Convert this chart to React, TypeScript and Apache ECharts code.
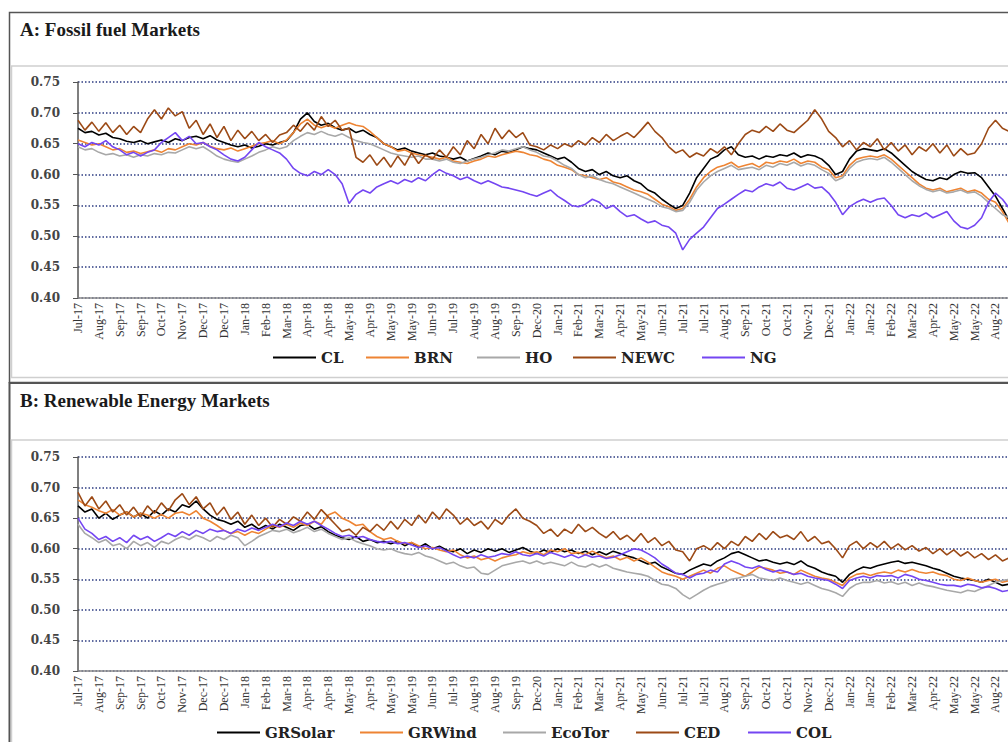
import React, { useEffect, useRef } from "react";
import * as echarts from "echarts";

// Tick labels shared by both panels (one per axis unit)
const tickLabels = [
  "Jul-17", "Aug-17", "Sep-17", "Sep-17", "Oct-17", "Nov-17", "Dec-17", "Dec-17", "Jan-18",
  "Feb-18", "Mar-18", "Apr-18", "Apr-18", "May-18", "Apr-19", "May-19", "May-19", "Jun-19",
  "Jul-19", "Aug-19", "Aug-19", "Sep-19", "Dec-20", "Jan-21", "Feb-21", "Mar-21", "Apr-21",
  "May-21", "Jun-21", "Jul-21", "Jul-21", "Aug-21", "Sep-21", "Oct-21", "Oct-21", "Nov-21",
  "Dec-21", "Jan-22", "Jan-22", "Feb-22", "Mar-22", "Apr-22", "May-22", "May-22", "Aug-22",
];

// Observations per tick interval
const PER_TICK = 3;

// Panel A: fossil fuel markets
const clValues = [
  0.675, 0.668, 0.670, 0.664, 0.667, 0.660, 0.658, 0.654, 0.652, 0.655, 0.650, 0.653, 0.656, 0.652, 0.658,
  0.655, 0.660, 0.662, 0.658, 0.663, 0.656, 0.652, 0.648, 0.645, 0.648, 0.643, 0.646, 0.650, 0.648, 0.652,
  0.655, 0.668, 0.690, 0.700, 0.686, 0.680, 0.683, 0.676, 0.672, 0.675, 0.668, 0.672, 0.665, 0.660, 0.650,
  0.645, 0.640, 0.643, 0.638, 0.635, 0.632, 0.635, 0.630, 0.628, 0.625, 0.628, 0.622, 0.626, 0.630, 0.635,
  0.632, 0.638, 0.636, 0.640, 0.645, 0.642, 0.640, 0.635, 0.630, 0.625, 0.628, 0.620, 0.610, 0.605, 0.608,
  0.600, 0.605, 0.598, 0.595, 0.598, 0.590, 0.585, 0.575, 0.570, 0.560, 0.552, 0.545, 0.550, 0.570, 0.595,
  0.610, 0.625, 0.630, 0.640, 0.645, 0.632, 0.628, 0.630, 0.625, 0.630, 0.628, 0.632, 0.630, 0.635, 0.628,
  0.632, 0.630, 0.625, 0.615, 0.600, 0.605, 0.625, 0.638, 0.642, 0.640, 0.638, 0.642, 0.635, 0.625, 0.615,
  0.605, 0.598, 0.592, 0.590, 0.595, 0.592, 0.600, 0.605, 0.602, 0.603, 0.595, 0.580, 0.565, 0.545, 0.525,
];
const brnValues = [
  0.656, 0.652, 0.648, 0.650, 0.645, 0.640, 0.642, 0.636, 0.638, 0.634, 0.637, 0.640, 0.636, 0.642, 0.640,
  0.645, 0.650, 0.648, 0.652, 0.646, 0.642, 0.640, 0.643, 0.638, 0.642, 0.646, 0.650, 0.652, 0.655, 0.650,
  0.656, 0.668, 0.682, 0.690, 0.680, 0.676, 0.680, 0.675, 0.680, 0.684, 0.680, 0.678, 0.670, 0.660, 0.650,
  0.645, 0.638, 0.640, 0.635, 0.632, 0.630, 0.628, 0.625, 0.628, 0.622, 0.620, 0.618, 0.622, 0.625, 0.630,
  0.628, 0.632, 0.635, 0.638, 0.636, 0.632, 0.630, 0.625, 0.622, 0.615, 0.612, 0.608, 0.600, 0.598, 0.595,
  0.592, 0.595, 0.588, 0.585, 0.580, 0.575, 0.572, 0.568, 0.560, 0.552, 0.548, 0.542, 0.545, 0.560, 0.580,
  0.595, 0.605, 0.612, 0.615, 0.620, 0.612, 0.615, 0.618, 0.612, 0.620, 0.618, 0.622, 0.620, 0.625, 0.618,
  0.622, 0.620, 0.612, 0.608, 0.595, 0.598, 0.615, 0.625, 0.628, 0.630, 0.628, 0.632, 0.625, 0.615, 0.605,
  0.595, 0.585, 0.578, 0.575, 0.578, 0.572, 0.575, 0.578, 0.572, 0.575, 0.570, 0.560, 0.555, 0.540, 0.520,
];
const hoValues = [
  0.645, 0.640, 0.642, 0.636, 0.632, 0.634, 0.630, 0.632, 0.628, 0.632, 0.630, 0.634, 0.632, 0.636, 0.635,
  0.640, 0.645, 0.642, 0.645, 0.638, 0.630, 0.625, 0.622, 0.620, 0.625, 0.630, 0.636, 0.640, 0.645, 0.642,
  0.645, 0.655, 0.662, 0.668, 0.665, 0.670, 0.665, 0.662, 0.666, 0.660, 0.655, 0.652, 0.650, 0.645, 0.640,
  0.635, 0.632, 0.630, 0.628, 0.630, 0.625, 0.625, 0.622, 0.625, 0.620, 0.618, 0.622, 0.625, 0.628, 0.632,
  0.635, 0.640, 0.638, 0.642, 0.645, 0.640, 0.636, 0.630, 0.628, 0.622, 0.615, 0.610, 0.600, 0.595, 0.598,
  0.592, 0.588, 0.585, 0.580, 0.575, 0.570, 0.565, 0.560, 0.555, 0.548, 0.545, 0.540, 0.542, 0.555, 0.575,
  0.588, 0.598, 0.605, 0.610, 0.615, 0.608, 0.610, 0.612, 0.608, 0.615, 0.612, 0.618, 0.615, 0.620, 0.614,
  0.618, 0.615, 0.608, 0.602, 0.590, 0.595, 0.610, 0.620, 0.624, 0.626, 0.624, 0.628, 0.620, 0.610, 0.600,
  0.590, 0.582, 0.576, 0.572, 0.575, 0.570, 0.572, 0.575, 0.570, 0.572, 0.565, 0.555, 0.545, 0.535, 0.530,
];
const newcValues = [
  0.688, 0.672, 0.685, 0.670, 0.684, 0.668, 0.680, 0.665, 0.678, 0.668, 0.690, 0.705, 0.690, 0.708, 0.695,
  0.702, 0.675, 0.688, 0.665, 0.682, 0.660, 0.678, 0.655, 0.672, 0.658, 0.670, 0.655, 0.665, 0.652, 0.664,
  0.668, 0.680, 0.670, 0.684, 0.672, 0.694, 0.678, 0.688, 0.672, 0.675, 0.628, 0.620, 0.632, 0.615, 0.628,
  0.612, 0.630, 0.615, 0.635, 0.618, 0.632, 0.625, 0.640, 0.628, 0.645, 0.632, 0.655, 0.642, 0.665, 0.650,
  0.675, 0.658, 0.672, 0.660, 0.668, 0.648, 0.645, 0.640, 0.648, 0.642, 0.650, 0.645, 0.655, 0.648, 0.660,
  0.652, 0.665, 0.655, 0.662, 0.668, 0.660, 0.672, 0.685, 0.670, 0.660, 0.645, 0.635, 0.640, 0.628, 0.635,
  0.630, 0.642, 0.635, 0.645, 0.632, 0.650, 0.665, 0.672, 0.668, 0.678, 0.670, 0.682, 0.672, 0.668, 0.678,
  0.688, 0.705, 0.690, 0.670, 0.660, 0.645, 0.655, 0.640, 0.652, 0.645, 0.658, 0.640, 0.652, 0.638, 0.648,
  0.632, 0.645, 0.638, 0.650, 0.635, 0.648, 0.630, 0.642, 0.632, 0.635, 0.650, 0.675, 0.688, 0.675, 0.670,
];
const ngValues = [
  0.650, 0.645, 0.652, 0.648, 0.655, 0.645, 0.640, 0.632, 0.636, 0.630, 0.636, 0.640, 0.652, 0.660, 0.668,
  0.655, 0.662, 0.650, 0.652, 0.645, 0.640, 0.632, 0.625, 0.622, 0.628, 0.640, 0.652, 0.645, 0.640, 0.635,
  0.625, 0.610, 0.602, 0.598, 0.605, 0.600, 0.608, 0.600, 0.585, 0.553, 0.568, 0.575, 0.570, 0.580, 0.585,
  0.590, 0.585, 0.592, 0.588, 0.595, 0.590, 0.600, 0.608, 0.602, 0.598, 0.592, 0.596, 0.590, 0.585, 0.590,
  0.585, 0.580, 0.578, 0.575, 0.572, 0.568, 0.565, 0.570, 0.575, 0.565, 0.558, 0.550, 0.548, 0.552, 0.560,
  0.555, 0.545, 0.550, 0.540, 0.532, 0.535, 0.528, 0.522, 0.525, 0.518, 0.515, 0.505, 0.478, 0.495, 0.505,
  0.515, 0.530, 0.545, 0.552, 0.560, 0.568, 0.575, 0.572, 0.580, 0.585, 0.582, 0.588, 0.578, 0.575, 0.580,
  0.585, 0.578, 0.580, 0.570, 0.555, 0.535, 0.548, 0.555, 0.560, 0.555, 0.560, 0.562, 0.550, 0.535, 0.530,
  0.535, 0.532, 0.538, 0.530, 0.535, 0.540, 0.525, 0.515, 0.512, 0.518, 0.530, 0.555, 0.570, 0.560, 0.545,
];

// Panel B: renewable energy markets
const grSolarValues = [
  0.670, 0.660, 0.665, 0.650, 0.658, 0.648, 0.655, 0.660, 0.652, 0.658, 0.650, 0.662, 0.655, 0.665, 0.660,
  0.672, 0.668, 0.678, 0.665, 0.655, 0.648, 0.645, 0.640, 0.645, 0.635, 0.640, 0.632, 0.638, 0.632, 0.640,
  0.635, 0.630, 0.638, 0.640, 0.632, 0.636, 0.628, 0.622, 0.618, 0.615, 0.620, 0.612, 0.615, 0.610, 0.612,
  0.608, 0.612, 0.605, 0.610, 0.602, 0.608, 0.600, 0.604, 0.598, 0.595, 0.600, 0.592, 0.598, 0.594, 0.600,
  0.596, 0.600, 0.594, 0.598, 0.602, 0.596, 0.592, 0.598, 0.594, 0.600, 0.595, 0.598, 0.592, 0.596, 0.590,
  0.595, 0.590, 0.596, 0.592, 0.588, 0.585, 0.580, 0.575, 0.578, 0.570, 0.565, 0.560, 0.558, 0.565, 0.570,
  0.575, 0.572, 0.580, 0.585, 0.592, 0.595, 0.590, 0.585, 0.580, 0.582, 0.578, 0.575, 0.578, 0.574, 0.580,
  0.572, 0.568, 0.562, 0.558, 0.555, 0.545, 0.558, 0.565, 0.570, 0.568, 0.572, 0.575, 0.578, 0.580, 0.576,
  0.578, 0.575, 0.572, 0.568, 0.565, 0.560, 0.555, 0.552, 0.550, 0.548, 0.545, 0.550, 0.545, 0.540, 0.542,
];
const grWindValues = [
  0.680, 0.672, 0.668, 0.662, 0.658, 0.664, 0.655, 0.660, 0.652, 0.658, 0.655, 0.650, 0.656, 0.650, 0.658,
  0.660, 0.655, 0.662, 0.650, 0.645, 0.638, 0.630, 0.625, 0.628, 0.622, 0.628, 0.625, 0.632, 0.638, 0.635,
  0.640, 0.635, 0.642, 0.638, 0.645, 0.640, 0.655, 0.660, 0.650, 0.645, 0.638, 0.640, 0.628, 0.620, 0.615,
  0.618, 0.612, 0.608, 0.610, 0.605, 0.600, 0.602, 0.598, 0.595, 0.598, 0.590, 0.585, 0.588, 0.582, 0.585,
  0.580, 0.585, 0.588, 0.590, 0.595, 0.592, 0.595, 0.590, 0.598, 0.595, 0.600, 0.592, 0.594, 0.590, 0.596,
  0.590, 0.585, 0.588, 0.582, 0.586, 0.580, 0.585, 0.578, 0.570, 0.562, 0.558, 0.555, 0.550, 0.555, 0.560,
  0.565, 0.560, 0.568, 0.572, 0.565, 0.560, 0.555, 0.562, 0.570, 0.568, 0.565, 0.560, 0.562, 0.558, 0.565,
  0.560, 0.555, 0.552, 0.550, 0.545, 0.540, 0.552, 0.558, 0.560, 0.556, 0.560, 0.562, 0.560, 0.565, 0.562,
  0.566, 0.562, 0.560, 0.562, 0.558, 0.556, 0.550, 0.548, 0.552, 0.548, 0.545, 0.548, 0.550, 0.545, 0.548,
];
const ecoTorValues = [
  0.640, 0.625, 0.618, 0.610, 0.615, 0.605, 0.608, 0.600, 0.612, 0.605, 0.610, 0.602, 0.612, 0.608, 0.615,
  0.620, 0.615, 0.622, 0.618, 0.612, 0.620, 0.615, 0.622, 0.618, 0.605, 0.612, 0.620, 0.625, 0.630, 0.628,
  0.632, 0.626, 0.630, 0.635, 0.628, 0.632, 0.625, 0.620, 0.615, 0.618, 0.612, 0.608, 0.605, 0.600, 0.598,
  0.600, 0.595, 0.592, 0.590, 0.594, 0.588, 0.585, 0.580, 0.575, 0.578, 0.572, 0.568, 0.570, 0.560, 0.558,
  0.565, 0.572, 0.575, 0.578, 0.580, 0.576, 0.580, 0.575, 0.578, 0.575, 0.572, 0.578, 0.572, 0.570, 0.575,
  0.570, 0.574, 0.568, 0.565, 0.562, 0.560, 0.558, 0.555, 0.548, 0.542, 0.540, 0.535, 0.525, 0.518, 0.525,
  0.532, 0.538, 0.542, 0.545, 0.550, 0.552, 0.555, 0.558, 0.552, 0.550, 0.548, 0.552, 0.548, 0.545, 0.542,
  0.545, 0.540, 0.535, 0.532, 0.528, 0.522, 0.535, 0.542, 0.545, 0.545, 0.548, 0.544, 0.546, 0.542, 0.545,
  0.540, 0.544, 0.540, 0.538, 0.535, 0.532, 0.530, 0.528, 0.532, 0.530, 0.535, 0.540, 0.545, 0.548, 0.550,
];
const cedValues = [
  0.692, 0.670, 0.685, 0.665, 0.678, 0.660, 0.672, 0.655, 0.668, 0.652, 0.670, 0.658, 0.675, 0.662, 0.680,
  0.690, 0.672, 0.685, 0.665, 0.675, 0.655, 0.668, 0.648, 0.660, 0.640, 0.655, 0.638, 0.650, 0.635, 0.648,
  0.640, 0.652, 0.645, 0.660, 0.648, 0.664, 0.652, 0.640, 0.628, 0.632, 0.622, 0.635, 0.628, 0.640, 0.630,
  0.645, 0.632, 0.648, 0.638, 0.655, 0.642, 0.660, 0.648, 0.665, 0.655, 0.640, 0.650, 0.638, 0.645, 0.632,
  0.648, 0.640, 0.655, 0.665, 0.650, 0.645, 0.638, 0.625, 0.632, 0.620, 0.632, 0.625, 0.640, 0.628, 0.635,
  0.625, 0.618, 0.628, 0.615, 0.622, 0.612, 0.625, 0.610, 0.618, 0.605, 0.612, 0.598, 0.595, 0.580, 0.600,
  0.605, 0.598, 0.610, 0.600, 0.612, 0.605, 0.620, 0.612, 0.625, 0.615, 0.628, 0.618, 0.622, 0.615, 0.628,
  0.612, 0.620, 0.608, 0.612, 0.600, 0.585, 0.605, 0.612, 0.600, 0.610, 0.602, 0.612, 0.600, 0.608, 0.598,
  0.605, 0.596, 0.602, 0.592, 0.600, 0.590, 0.598, 0.588, 0.595, 0.585, 0.592, 0.582, 0.590, 0.580, 0.585,
];
const colValues = [
  0.650, 0.632, 0.625, 0.615, 0.620, 0.612, 0.618, 0.610, 0.622, 0.615, 0.620, 0.612, 0.618, 0.625, 0.620,
  0.628, 0.622, 0.630, 0.625, 0.632, 0.628, 0.630, 0.625, 0.632, 0.628, 0.634, 0.630, 0.635, 0.640, 0.636,
  0.642, 0.638, 0.645, 0.640, 0.645, 0.638, 0.632, 0.625, 0.620, 0.622, 0.618, 0.620, 0.615, 0.612, 0.610,
  0.612, 0.608, 0.610, 0.606, 0.602, 0.605, 0.600, 0.602, 0.596, 0.590, 0.585, 0.588, 0.585, 0.590, 0.586,
  0.588, 0.592, 0.590, 0.595, 0.590, 0.588, 0.592, 0.588, 0.594, 0.590, 0.586, 0.590, 0.585, 0.590, 0.586,
  0.588, 0.584, 0.586, 0.590, 0.595, 0.600, 0.598, 0.592, 0.585, 0.575, 0.568, 0.560, 0.558, 0.552, 0.558,
  0.560, 0.565, 0.562, 0.575, 0.580, 0.576, 0.570, 0.568, 0.572, 0.566, 0.562, 0.565, 0.562, 0.558, 0.560,
  0.555, 0.552, 0.550, 0.548, 0.542, 0.535, 0.548, 0.552, 0.555, 0.552, 0.556, 0.555, 0.556, 0.552, 0.558,
  0.555, 0.550, 0.548, 0.545, 0.542, 0.540, 0.540, 0.538, 0.542, 0.540, 0.536, 0.538, 0.535, 0.530, 0.532,
];

const panelASeries = [
  { name: "CL", values: clValues, color: "#000000" },
  { name: "BRN", values: brnValues, color: "#EE8433" },
  { name: "HO", values: hoValues, color: "#A8A8A8" },
  { name: "NEWC", values: newcValues, color: "#9C4A16" },
  { name: "NG", values: ngValues, color: "#7446F2" },
];
const panelBSeries = [
  { name: "GRSolar", values: grSolarValues, color: "#000000" },
  { name: "GRWind", values: grWindValues, color: "#EE8433" },
  { name: "EcoTor", values: ecoTorValues, color: "#A8A8A8" },
  { name: "CED", values: cedValues, color: "#9C4A16" },
  { name: "COL", values: colValues, color: "#7446F2" },
];

const SERIF = "Liberation Serif";
const WIDE_SERIF = "DejaVu Serif";

const toPoints = (vals: number[]) => vals.map((v, i) => [i / PER_TICK, v]);

function xAxisFor(gridIndex: number) {
  return {
    type: "value",
    gridIndex,
    min: 0,
    max: 44.6,
    interval: 1,
    axisLine: { show: true, lineStyle: { color: "#8a8a8a", width: 1.5 } },
    axisTick: { show: false },
    splitLine: { show: false },
    axisLabel: {
      rotate: 90,
      margin: 5,
      fontFamily: SERIF,
      fontSize: 12,
      color: "#333333",
      formatter: (v: number) =>
        Number.isInteger(v) && v >= 0 && v < tickLabels.length ? tickLabels[v] : "",
    },
  };
}

function yAxisFor(gridIndex: number) {
  return {
    type: "value",
    gridIndex,
    min: 0.4,
    max: 0.75,
    interval: 0.05,
    axisLine: { show: true, lineStyle: { color: "#555555", width: 1.5 } },
    axisTick: { show: true, length: 5, lineStyle: { color: "#555555" } },
    axisLabel: {
      margin: 18,
      fontFamily: WIDE_SERIF,
      fontWeight: "bold",
      fontSize: 12,
      color: "#444444",
      formatter: (v: number) => v.toFixed(2),
    },
    splitLine: {
      show: true,
      lineStyle: { type: [1.5, 2], color: "#2E3D82", width: 1.5 },
    },
  };
}

function seriesFor(defs: typeof panelASeries, axisIndex: number) {
  return defs.map((d) => ({
    type: "line",
    name: d.name,
    xAxisIndex: axisIndex,
    yAxisIndex: axisIndex,
    data: toPoints(d.values),
    symbol: "none",
    showSymbol: false,
    lineStyle: { color: d.color, width: 1.6 },
    itemStyle: { color: d.color },
    emphasis: { disabled: true },
  }));
}

function legendItem(name: string, left: number, top: number) {
  return {
    data: [name],
    left,
    top,
    padding: 0,
    icon: "rect",
    itemWidth: 43,
    itemHeight: 2,
    selectedMode: false,
    textStyle: {
      fontFamily: WIDE_SERIF,
      fontWeight: "bold",
      fontSize: 15,
      color: "#222222",
    },
  };
}

const legendA = [
  ["CL", 273],
  ["BRN", 366],
  ["HO", 477],
  ["NEWC", 573],
  ["NG", 702],
] as const;
const legendB = [
  ["GRSolar", 217],
  ["GRWind", 360],
  ["EcoTor", 503],
  ["CED", 636],
  ["COL", 748],
] as const;

const titleStyle = {
  fontFamily: SERIF,
  fontWeight: "bold",
  fontSize: 19,
  color: "#1a1a1a",
};

const option = {
  animation: false,
  backgroundColor: "#ffffff",
  title: [
    { text: "A: Fossil fuel Markets", left: 20, top: 20, padding: 0, textStyle: titleStyle },
    { text: "B: Renewable Energy Markets", left: 20, top: 391, padding: 0, textStyle: titleStyle },
  ],
  grid: [
    { left: 78, top: 82, width: 930, height: 216 },
    { left: 78, top: 457, width: 930, height: 214 },
  ],
  xAxis: [xAxisFor(0), xAxisFor(1)],
  yAxis: [yAxisFor(0), yAxisFor(1)],
  legend: [
    ...legendA.map(([n, l]) => legendItem(n, l, 350)),
    ...legendB.map(([n, l]) => legendItem(n, l, 725)),
  ],
  graphic: [
    {
      type: "rect",
      silent: true,
      z: -10,
      shape: { x: 9.5, y: 12.5, width: 1100, height: 370 },
      style: { fill: "none", stroke: "#555555", lineWidth: 1.5 },
    },
    {
      type: "rect",
      silent: true,
      z: -10,
      shape: { x: 11.5, y: 66, width: 1100, height: 311.5 },
      style: { fill: "none", stroke: "#cfcfcf", lineWidth: 1.5 },
    },
    {
      type: "rect",
      silent: true,
      z: -10,
      shape: { x: 9.5, y: 383, width: 1100, height: 400 },
      style: { fill: "none", stroke: "#555555", lineWidth: 2 },
    },
    {
      type: "rect",
      silent: true,
      z: -10,
      shape: { x: 11.5, y: 440, width: 1100, height: 400 },
      style: { fill: "none", stroke: "#cfcfcf", lineWidth: 1.5 },
    },
  ],
  series: [...seriesFor(panelASeries, 0), ...seriesFor(panelBSeries, 1)],
};

export default function App() {
  const ref = useRef<HTMLDivElement>(null);

  useEffect(() => {
    document.body.style.margin = "0";
    const chart = echarts.init(ref.current as HTMLDivElement, null, { renderer: "svg" });
    chart.setOption(option as any);
    return () => chart.dispose();
  }, []);

  return <div ref={ref} style={{ width: 1008, height: 742, overflow: "hidden" }} />;
}
